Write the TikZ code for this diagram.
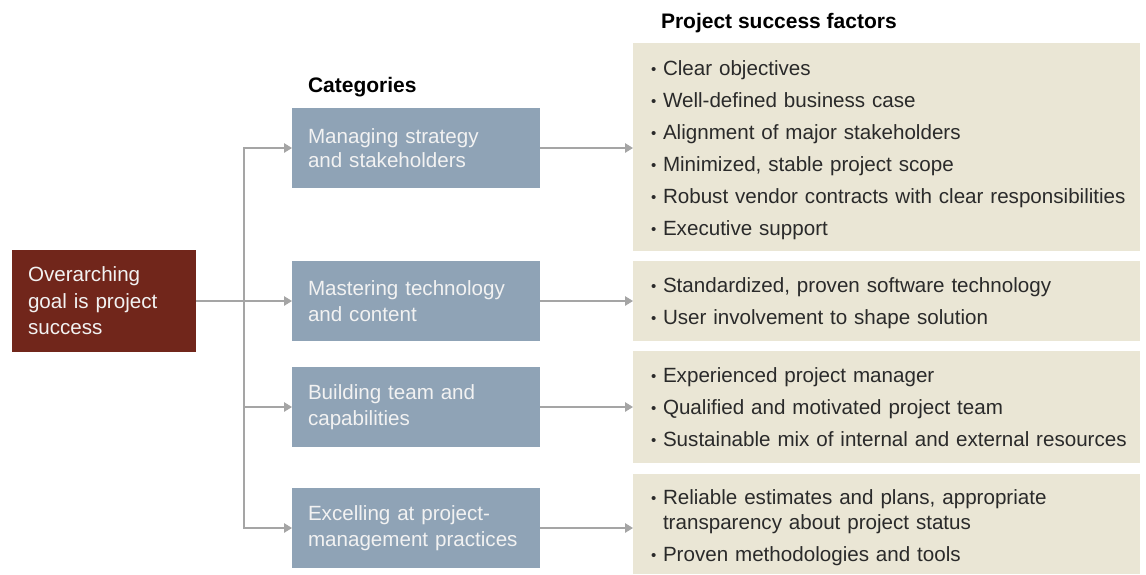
\documentclass[tikz,border=0pt]{standalone}
\usepackage{fontspec}
\setmainfont{Liberation Sans}
\usetikzlibrary{arrows.meta}
\definecolor{goalred}{HTML}{71261B}
\definecolor{catblue}{HTML}{8FA3B6}
\definecolor{factbeige}{HTML}{EAE6D5}
\definecolor{linegrey}{HTML}{A5A5A5}
\definecolor{txtdark}{HTML}{2A2A2A}
\definecolor{txtlight}{HTML}{F2F2F2}
\newcommand{\bitem}[1]{\par\noindent\hangindent=11pt\hangafter=1\makebox[11pt][l]{\kern-1pt\raisebox{1.2pt}{\fontsize{15}{15}\selectfont\textbullet}}#1\par}
\begin{document}
\begin{tikzpicture}[x=1pt,y=-1pt,
  every node/.style={inner sep=0pt, outer sep=0pt},
  basefont/.style={font=\fontsize{20.6}{26.5}\selectfont},
  goalbox/.style={basefont, fill=goalred, text=txtlight, minimum width=184pt, minimum height=102pt,
    text width=152pt, inner xsep=16pt, align=left},
  catbox/.style={basefont, fill=catblue, text=txtlight, minimum width=248pt, minimum height=80pt,
    text width=216pt, inner xsep=16pt, align=left},
  factbox/.style={fill=factbeige, minimum width=507pt},
  facttext/.style={anchor=west, text=txtdark, text width=486pt,
    font=\fontsize{20.6}{25}\selectfont,
    execute at begin node={\setlength{\parskip}{7pt}}},
  headtext/.style={anchor=base west, text=black, font=\fontsize{21}{25}\selectfont\bfseries},
  conn/.style={draw=linegrey, line width=1.3pt, -{Triangle[length=8pt,width=9.5pt]}}
]
\useasboundingbox (0,0) rectangle (1146,574);

% headings
\node[headtext] (hcat) at (308,92) {Categories};
\node[headtext] (hfac) at (661,28) {Project success factors};

% goal
\node[goalbox] (goal) at (104,301) {Overarching\\goal is project\\success};

% categories
\node[catbox] (cat1) at (416,148) {\vspace{-3pt}Managing strategy\\and stakeholders};
\node[catbox] (cat2) at (416,301) {Mastering technology\\and content};
\node[catbox] (cat3) at (416,407) {Building team and\\capabilities};
\node[catbox] (cat4) at (416,528) {Excelling at project-\\management practices};

% factor boxes
\node[factbox, minimum height=208pt] (fac1) at (886.5,147) {};
\node[factbox, minimum height=80pt]  (fac2) at (886.5,301) {};
\node[factbox, minimum height=112pt] (fac3) at (886.5,407) {};
\node[factbox, minimum height=100pt] (fac4) at (886.5,524) {};

\node[facttext] (ft1) at (652,142) {%
\bitem{Clear objectives}
\bitem{Well-defined business case}
\bitem{Alignment of major stakeholders}
\bitem{Minimized, stable project scope}
\bitem{Robust vendor contracts with clear responsibilities}
\bitem{Executive support}};
\node[facttext] (ft2) at (652,295) {%
\bitem{Standardized, proven software technology}
\bitem{User involvement to shape solution}};
\node[facttext] (ft3) at (652,399) {%
\bitem{Experienced project manager}
\bitem{Qualified and motivated project team}
\bitem{Sustainable mix of internal and external resources}};
\node[facttext, text width=420pt] (ft4) at (652,519.5) {%
\bitem{Reliable estimates and plans, appropriate transparency about project status}
\bitem{Proven methodologies and tools}};

% connectors
\coordinate (trunk) at (244,301);
\draw[conn] (goal.east) -- (cat2.west);
\draw[conn] (trunk) |- (cat1.west);
\draw[conn] (trunk) |- (cat3.west);
\draw[conn] (trunk) |- (cat4.west);
\draw[conn] (cat1.east) -- (cat1.east -| fac1.west);
\draw[conn] (cat2.east) -- (cat2.east -| fac2.west);
\draw[conn] (cat3.east) -- (cat3.east -| fac3.west);
\draw[conn] (cat4.east) -- (cat4.east -| fac4.west);
\end{tikzpicture}
\end{document}
